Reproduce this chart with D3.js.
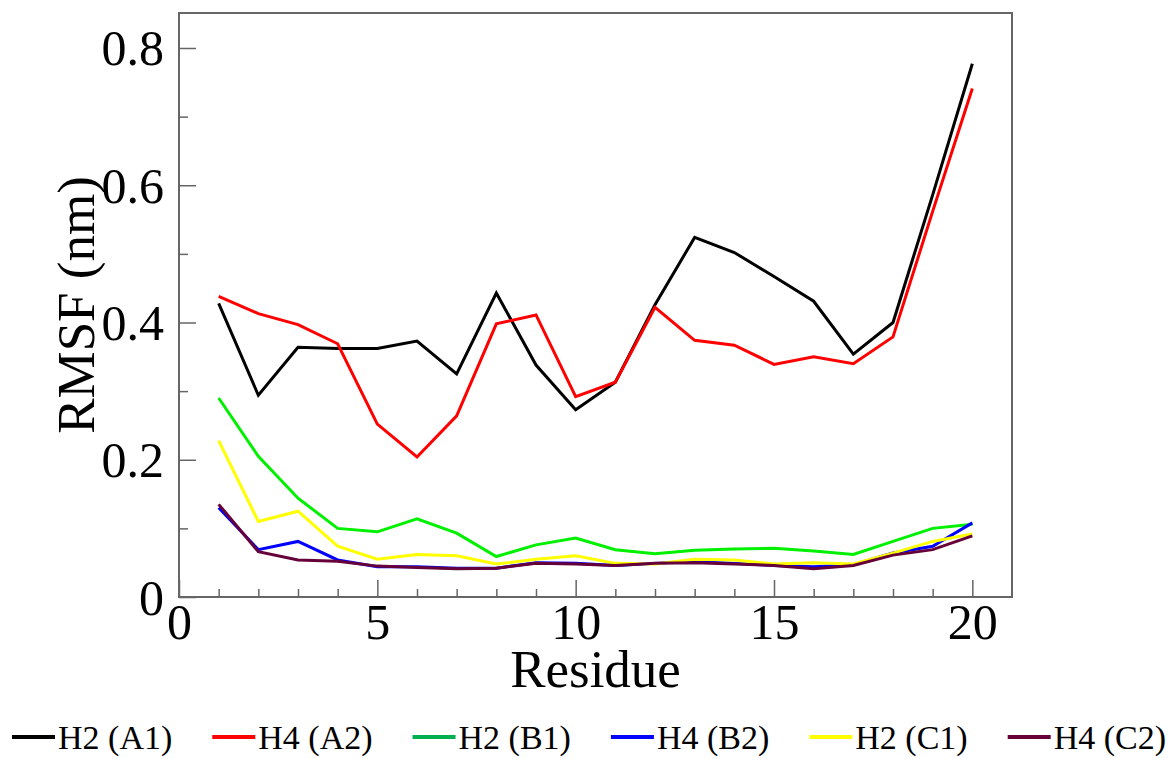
<!DOCTYPE html>
<html>
<head>
<meta charset="utf-8">
<script src="https://cdn.jsdelivr.net/npm/d3@7"></script>
<style>
  body { margin: 0; background: #fff; }
  svg text { font-family: "Liberation Serif", "Times New Roman", serif !important; }
</style>
</head>
<body>
<div class="canva"></div>
<script>
const residues = d3.range(1, 21);

const seriesNames  = ["H2 (A1)", "H4 (A2)", "H2 (B1)", "H4 (B2)", "H2 (C1)", "H4 (C2)"];
const lineColors   = ["#000000", "#ff0000", "#00f000", "#0000ff", "#ffff00", "#660038"];
const legendColors = ["#000000", "#ff0000", "#00b050", "#0000ff", "#ffff00", "#660038"];

const h2A1 = [0.428, 0.294, 0.364, 0.362, 0.362, 0.373, 0.325, 0.443, 0.338, 0.273,
              0.313, 0.426, 0.524, 0.502, 0.467, 0.431, 0.354, 0.400, 0.586, 0.777];
const h4A2 = [0.438, 0.413, 0.397, 0.369, 0.252, 0.204, 0.264, 0.398, 0.411, 0.292,
              0.313, 0.422, 0.374, 0.367, 0.339, 0.350, 0.340, 0.379, 0.562, 0.741];
const h2B1 = [0.290, 0.205, 0.144, 0.100, 0.095, 0.114, 0.093, 0.059, 0.076, 0.086,
              0.069, 0.063, 0.068, 0.070, 0.071, 0.067, 0.062, 0.081, 0.100, 0.106];
const h4B2 = [0.130, 0.069, 0.081, 0.054, 0.044, 0.044, 0.042, 0.042, 0.050, 0.049,
              0.046, 0.049, 0.052, 0.049, 0.046, 0.044, 0.047, 0.064, 0.074, 0.108];
const h2C1 = [0.228, 0.110, 0.125, 0.074, 0.055, 0.062, 0.060, 0.048, 0.055, 0.060,
              0.049, 0.048, 0.055, 0.054, 0.048, 0.050, 0.048, 0.064, 0.081, 0.092];
const h4C2 = [0.135, 0.066, 0.054, 0.052, 0.045, 0.043, 0.041, 0.042, 0.049, 0.048,
              0.046, 0.049, 0.050, 0.048, 0.046, 0.041, 0.046, 0.061, 0.069, 0.089];

const seriesValues = [h2A1, h4A2, h2B1, h4B2, h2C1, h4C2];

const xTicks = [0, 5, 10, 15, 20];
const yTicks = [0, 0.2, 0.4, 0.6, 0.8];

const width = 1176, height = 758;
const margin = {top: 13, right: 164, bottom: 161, left: 179};

const svg = d3.select(".canva").append("svg")
    .attr("width", width)
    .attr("height", height);

const x = d3.scaleLinear().domain([0, 21]).range([margin.left, width - margin.right]);
const y = d3.scaleLinear().domain([0, 0.851]).range([height - margin.bottom, margin.top]);

const axisColor = "#666";
const serif = "Liberation Serif, Times New Roman, serif";

// minor ticks
const minorX = d3.range(1, 21).filter(d => d % 5 !== 0);
const minorY = d3.range(1, 9).map(d => d / 10).filter(d => Math.round(d * 10) % 2 !== 0);

svg.append("g")
    .attr("transform", `translate(0,${y(0)})`)
    .call(d3.axisBottom(x).tickValues(minorX).tickSize(-8).tickFormat(""))
    .call(g => g.select(".domain").remove())
    .call(g => g.selectAll("line").attr("stroke", axisColor).attr("stroke-width", 1.5));

svg.append("g")
    .attr("transform", `translate(${x(0)},0)`)
    .call(d3.axisLeft(y).tickValues(minorY).tickSize(-9).tickFormat(""))
    .call(g => g.select(".domain").remove())
    .call(g => g.selectAll("line").attr("stroke", axisColor).attr("stroke-width", 1.5));

// major ticks
svg.append("g")
    .attr("transform", `translate(0,${y(0)})`)
    .attr("font-family", serif)
    .call(d3.axisBottom(x).tickValues(xTicks).tickSize(-17).tickPadding(8))
    .call(g => g.select(".domain").remove())
    .call(g => g.selectAll("line").attr("stroke", axisColor).attr("stroke-width", 1.5))
    .call(g => g.selectAll("text").attr("fill", "#000").attr("font-size", 50)
        .attr("dy", "0.68em").style("font-family", serif));

svg.append("g")
    .attr("transform", `translate(${x(0)},0)`)
    .attr("font-family", serif)
    .call(d3.axisLeft(y).tickValues(yTicks).tickSize(-17).tickPadding(15)
        .tickFormat(d => d === 0 ? "0" : d3.format(".1f")(d)))
    .call(g => g.select(".domain").remove())
    .call(g => g.selectAll("line").attr("stroke", axisColor).attr("stroke-width", 1.5))
    .call(g => g.selectAll("text").attr("fill", "#000").attr("font-size", 50)
        .attr("dy", "0.34em").style("font-family", serif));

// frame
svg.append("rect")
    .attr("x", x(0))
    .attr("y", y(0.851))
    .attr("width", x(21) - x(0))
    .attr("height", y(0) - y(0.851))
    .attr("fill", "none")
    .attr("stroke", axisColor)
    .attr("stroke-width", 2);

// lines
const line = d3.line()
    .x((d, i) => x(residues[i]))
    .y(d => y(d));

svg.selectAll("path.series")
    .data(seriesValues)
    .enter()
    .append("path")
    .attr("class", "series")
    .attr("fill", "none")
    .attr("stroke", (d, i) => lineColors[i])
    .attr("stroke-width", 3)
    .attr("stroke-linejoin", "miter")
    .attr("d", line);

// axis titles
svg.append("text")
    .attr("x", (x(0) + x(21)) / 2)
    .attr("y", 687)
    .attr("text-anchor", "middle")
    .attr("font-size", 53)
    .style("font-family", serif)
    .text("Residue");

svg.append("text")
    .attr("transform", `translate(94,${(y(0) + y(0.851)) / 2}) rotate(-90)`)
    .attr("text-anchor", "middle")
    .attr("font-size", 53)
    .style("font-family", serif)
    .text("RMSF (nm)");

// legend
const legend = svg.append("g");
let lx = 12;
seriesNames.forEach((name, i) => {
  legend.append("line")
      .attr("x1", lx).attr("x2", lx + 43)
      .attr("y1", 737).attr("y2", 737)
      .attr("stroke", legendColors[i])
      .attr("stroke-width", 4);
  const t = legend.append("text")
      .attr("x", lx + 46)
      .attr("y", 749)
      .attr("font-size", 34)
      .style("font-family", serif)
      .text(name);
  lx = lx + 46 + t.node().getComputedTextLength() + 40;
});
</script>
</body>
</html>
